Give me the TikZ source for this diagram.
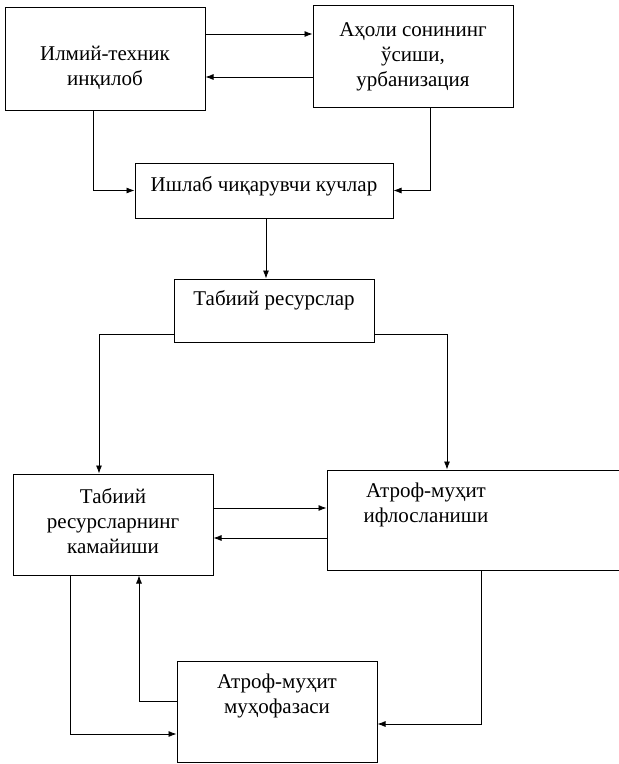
\documentclass[tikz,border=0pt]{standalone}
\usepackage{fontspec}
\setmainfont{Liberation Serif}
\usetikzlibrary{arrows.meta}
\begin{document}
\begin{tikzpicture}[x=1pt,y=-1pt,
  box/.style={draw,line width=1pt,inner sep=0pt},
  lbl/.style={align=center,inner sep=0pt,font=\fontsize{21}{25}\selectfont},
  arr/.style={line width=0.8pt,-{Latex[length=8pt,width=6pt]}}]
\useasboundingbox (0,0) rectangle (619,764);
% boxes
\node[box,minimum width=200pt,minimum height=103pt] (b1) at (105,58.5) {};
\node[lbl] (t1) at (105,68) {Илмий-техник\\инқилоб};
\node[box,minimum width=200pt,minimum height=102pt] (b2) at (413,56) {};
\node[lbl] (t2) at (413,57) {Аҳоли сонининг\\ўсиши,\\урбанизация};
\node[box,minimum width=258pt,minimum height=55pt] (b3) at (264,190.5) {};
\node[lbl] (t3) at (264,186) {Ишлаб чиқарувчи кучлар};
\node[box,minimum width=200pt,minimum height=63pt] (b4) at (274,310.5) {};
\node[lbl] (t4) at (274,300) {Табиий ресурслар};
\node[box,minimum width=200pt,minimum height=101pt] (b5) at (113,524.5) {};
\node[lbl] (t5) at (113,521) {Табиий\\ресурсларнинг\\камайиши};
\node[box,minimum width=296pt,minimum height=100pt] (b6) at (475,520) {};
\node[lbl] (t6) at (426,505) {Атроф-муҳит\\ифлосланиши};
\node[box,minimum width=200pt,minimum height=101pt] (b7) at (277,711.5) {};
\node[lbl] (t7) at (277,696) {Атроф-муҳит\\муҳофазаси};
% connectors
\draw[arr] (b1.east |- 0,34) -- (b2.west |- 0,34);
\draw[arr] (b2.west |- 0,77) -- (b1.east |- 0,77);
\draw[arr] (b1.south -| 93,0) |- (b3.west);
\draw[arr] (b2.south -| 430,0) |- (b3.east);
\draw[arr] (b3.south -| 266,0) -- (b4.north -| 266,0);
\draw[arr] (b4.west |- 0,334) -| (b5.north -| 99,0);
\draw[arr] (b4.east |- 0,334) -| (b6.north -| 447,0);
\draw[arr] (b5.east |- 0,508) -- (b6.west |- 0,508);
\draw[arr] (b6.west |- 0,538) -- (b5.east |- 0,538);
\draw[arr] (b5.south -| 70,0) |- (b7.west |- 0,734);
\draw[arr] (b7.west |- 0,701) -| (b5.south -| 139,0);
\draw[arr] (b6.south -| 481,0) |- (b7.east |- 0,724);
\end{tikzpicture}
\end{document}
